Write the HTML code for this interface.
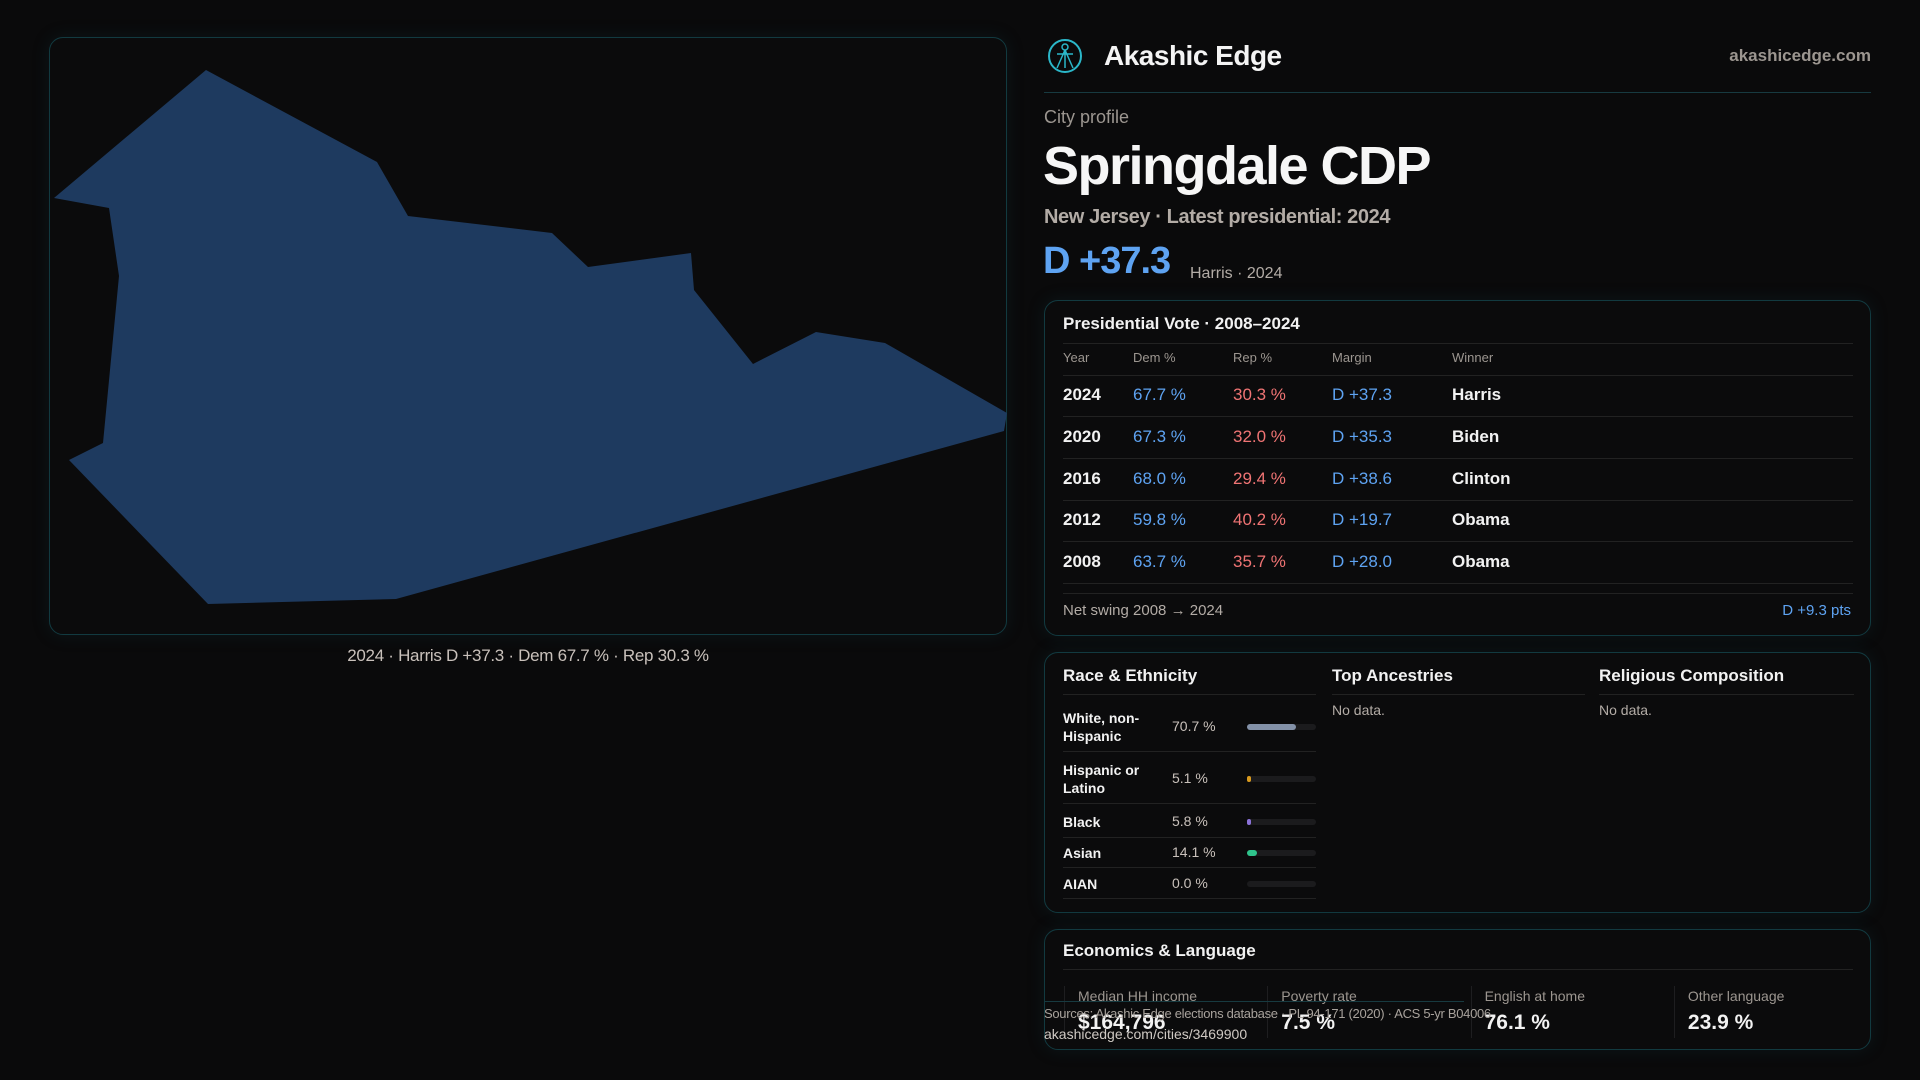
<!DOCTYPE html>
<html><head><meta charset="utf-8"><style>
*{box-sizing:border-box;margin:0;padding:0}
body{width:1920px;height:1080px;background:#0a0a0b;font-family:"Liberation Sans",sans-serif;color:#f2f2f2;position:relative;overflow:hidden}
.a{position:absolute;white-space:nowrap}
.panel{position:absolute;border:1px solid #123a40;border-radius:14px;background:#0b0b0c;box-shadow:0 0 18px rgba(20,80,90,0.18)}
.hl{position:absolute;height:1px;background:#222}
.blue{color:#5ea3f2}.red{color:#f07474}
</style></head><body>
<div class="panel" style="left:49px;top:37px;width:958px;height:598px"></div>
<svg class="a" style="left:0;top:0" width="1040" height="640">
<polygon id="shape" fill="#1e3a5f"/>
</svg>
<div class="a" style="left:0;width:1056px;text-align:center;top:646px;font-size:17px;color:#c9c1bb;letter-spacing:-0.3px">2024 · Harris D +37.3 · Dem 67.7 % · Rep 30.3 %</div>

<svg class="a" style="left:1047px;top:38px" width="36" height="36">
<circle cx="18" cy="18" r="16" fill="none" stroke="#2bb7c9" stroke-width="2"/>
<circle cx="18" cy="9" r="3" fill="none" stroke="#2bb7c9" stroke-width="1.5"/>
<path d="M18 12 L10 30 M18 12 L26 30 M18 12 L18 30 M10 16 L26 16" stroke="#2bb7c9" stroke-width="1.5" fill="none"/>
</svg>
<div class="a" style="left:1104px;top:40px;font-size:28px;font-weight:bold;color:#f4f4f4;letter-spacing:-0.5px">Akashic Edge</div>
<div class="a" style="right:49px;top:46px;font-size:17px;font-weight:bold;color:#9c9690">akashicedge.com</div>
<div class="hl" style="left:1044px;width:827px;top:92px;background:#173a40"></div>
<div class="a" style="left:1044px;top:107px;font-size:18px;color:#9c9690">City profile</div>
<div class="a" style="left:1043px;top:135px;font-size:54px;font-weight:bold;color:#f6f6f6;letter-spacing:-1.5px">Springdale CDP</div>
<div class="a" style="left:1044px;top:206px;font-size:20px;font-weight:bold;color:#b3aca6;letter-spacing:-0.4px">New Jersey · Latest presidential: 2024</div>
<div class="a blue" style="left:1043px;top:240px;font-size:38px;font-weight:bold;letter-spacing:-1px">D +37.3</div>
<div class="a" style="left:1190px;top:265px;font-size:16px;color:#b3aca6">Harris · 2024</div>

<div class="panel" style="left:1044px;top:300px;width:827px;height:336px"></div>
<div class="a" style="left:1063px;top:314px;font-size:17px;font-weight:bold">Presidential Vote · 2008–2024</div>
<div class="hl" style="left:1063px;width:790px;top:343px"></div>
<div id="vote"></div>
<div class="hl" style="left:1063px;width:790px;top:593px"></div>
<div class="a" style="left:1063px;top:602px;font-size:15px;color:#b3aca6">Net swing 2008 → 2024</div>
<div class="a blue" style="right:69px;top:602px;font-size:15px">D +9.3 pts</div>

<div class="panel" style="left:1044px;top:652px;width:827px;height:261px"></div>
<div class="a" style="left:1063px;top:666px;font-size:17px;font-weight:bold">Race &amp; Ethnicity</div>
<div class="a" style="left:1332px;top:666px;font-size:17px;font-weight:bold">Top Ancestries</div>
<div class="a" style="left:1599px;top:666px;font-size:17px;font-weight:bold">Religious Composition</div>
<div class="hl" style="left:1063px;width:253px;top:694px"></div>
<div class="hl" style="left:1332px;width:253px;top:694px"></div>
<div class="hl" style="left:1599px;width:255px;top:694px"></div>
<div class="a" style="left:1332px;top:702px;font-size:14px;color:#b3aca6">No data.</div>
<div class="a" style="left:1599px;top:702px;font-size:14px;color:#b3aca6">No data.</div>
<div id="race"></div>

<div class="panel" style="left:1044px;top:929px;width:827px;height:121px"></div>
<div class="a" style="left:1063px;top:941px;font-size:17px;font-weight:bold">Economics &amp; Language</div>
<div class="hl" style="left:1063px;width:790px;top:969px"></div>
<div id="econ"></div>
<div class="hl" style="left:1044px;width:420px;top:1001px;background:#173a40"></div>
<div class="a" style="left:1044px;top:1006px;font-size:13px;color:#a8a29c;letter-spacing:-0.3px">Sources: Akashic Edge elections database · PL 94-171 (2020) · ACS 5-yr B04006</div>
<div class="a" style="left:1044px;top:1026px;font-size:14px;color:#d0cac4">akashicedge.com/cities/3469900</div>

<script>
const mapX=[206,377,408,552,588,691,694,753,816,885,1007,1004,396,208,69,103,119,109,54];
const mapY=[70,162,216,233,267,253,290,364,332,343,413,431,599,604,460,443,276,208,198];
const years=["2024","2020","2016","2012","2008"];
const demPct=["67.7 %","67.3 %","68.0 %","59.8 %","63.7 %"];
const repPct=["30.3 %","32.0 %","29.4 %","40.2 %","35.7 %"];
const margins=["D +37.3","D +35.3","D +38.6","D +19.7","D +28.0"];
const winners=["Harris","Biden","Clinton","Obama","Obama"];
const raceLabels=["White, non-Hispanic","Hispanic or Latino","Black","Asian","AIAN"];
const raceValues=[70.7,5.1,5.8,14.1,0.0];
const raceColors=["#8391a8","#d99a1e","#8b72d8","#2fc48c","#555"];
const econLabels=["Median HH income","Poverty rate","English at home","Other language"];
const econValues=["$164,796","7.5 %","76.1 %","23.9 %"];

document.getElementById('shape').setAttribute('points',mapX.map((x,i)=>x+','+mapY[i]).join(' '));
function mk(parent,style,text,cls){const d=document.createElement('div');d.className='a '+(cls||'');d.style.cssText=style;if(text!=null)d.textContent=text;parent.appendChild(d);return d;}
const vt=document.getElementById('vote');
const cols=[1063,1133,1233,1332,1452];
["Year","Dem %","Rep %","Margin","Winner"].forEach((h,i)=>{const e=mk(vt,`left:${cols[i]}px;top:350px;font-size:13px;color:#9c9690`,h);

});
const hr=mk(vt,'left:1063px;top:375px;width:790px;height:1px;background:#222');


years.forEach((y,i)=>{const top=385+i*41.8;
const vals=[y,demPct[i],repPct[i],margins[i],winners[i]];
const cl=['','blue','red','blue',''];
vals.forEach((v,j)=>{const e=mk(vt,`left:${cols[j]}px;top:${top}px;font-size:17px;${j==0||j==4?'font-weight:bold;':''}`,v,cl[j]);

});
const l=mk(vt,`left:1063px;top:${top+31}px;width:790px;height:1px;background:#222`);

});
const rc=document.getElementById('race');
const rowTops=[704,756,808,840,871],rowH=[46,46,28,26,26];
raceLabels.forEach((lab,i)=>{const t=rowTops[i],h=rowH[i];
const e=mk(rc,`left:1063px;top:${t}px;width:100px;height:${h}px;display:flex;align-items:center;white-space:normal;font-size:14px;font-weight:bold;line-height:18px`,lab);


const p=mk(rc,`left:1172px;top:${t+h/2-9}px;font-size:14px;color:#c9c1bb`,raceValues[i].toFixed(1)+' %');


const tr=mk(rc,`left:1247px;top:${t+h/2-3}px;width:69px;height:6px;border-radius:3px;background:#1b1b1d`);


const b=mk(tr,`left:0;top:0;height:6px;border-radius:3px;width:${69*raceValues[i]/100}px;background:${raceColors[i]}`);


const l=mk(rc,`left:1063px;top:${t+h+1}px;width:253px;height:1px;background:#222`);

});
const ec=document.getElementById('econ');
econLabels.forEach((lab,i)=>{const x=1064+i*203.3;
const s=mk(ec,`left:${x}px;top:986px;width:1px;height:52px;background:#1e1e20`);


const a=mk(ec,`left:${x+14}px;top:988px;font-size:14px;color:#9c9690`,lab);


const v=mk(ec,`left:${x+14}px;top:1011px;font-size:21px;font-weight:bold`,econValues[i]);

});
</script>
</body></html>
